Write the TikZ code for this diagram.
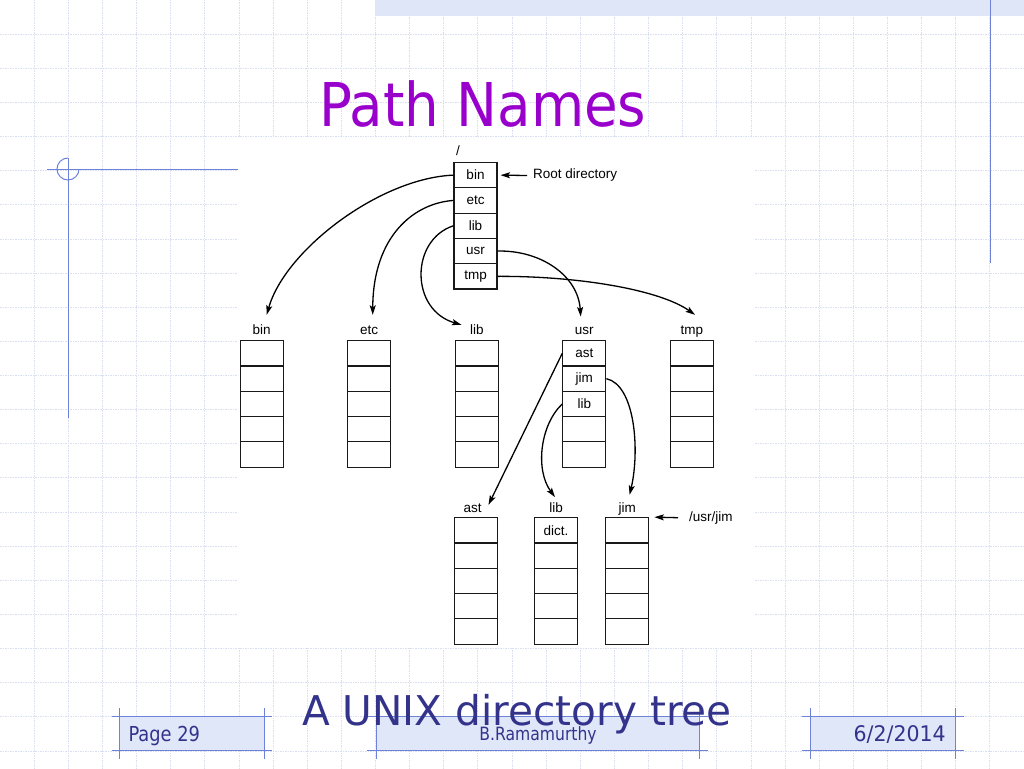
\documentclass[tikz,border=0pt]{standalone}
\usepackage{graphicx}
\usepackage{fontspec}
\setmainfont{Liberation Sans}
\newfontfamily\dvsfont{DejaVu Sans}
\usetikzlibrary{arrows.meta}
\definecolor{gridc}{RGB}{218,223,242}
\definecolor{bandc}{RGB}{222,230,248}
\definecolor{decoc}{RGB}{110,130,215}
\definecolor{titlec}{RGB}{153,0,204}
\definecolor{footc}{RGB}{51,51,140}
\definecolor{footfill}{RGB}{224,231,249}
\newcommand\dgfont{\fontsize{13.5}{15}\selectfont}
\begin{document}
\begin{tikzpicture}[x=1pt,y=-1pt,
  gridline/.style={gridc, line width=0.8pt, dash pattern=on 1.5pt off 1pt},
  deco/.style={decoc, line width=1pt},
  cellbox/.style={draw=black!90, line width=1.1pt, minimum width=43pt, minimum height=25.3pt, inner sep=0pt, font=\dgfont},
  dirlbl/.style={font=\dgfont, inner sep=0pt, text height=9.8pt, text depth=2.9pt, anchor=base},
  arr/.style={line width=1.3pt, -{Stealth[length=9.5pt,width=6pt,inset=2pt]}},
  foottext/.style={inner sep=0pt, text=footc}
]
\useasboundingbox (0,0) rectangle (1024,768);
\fill[white] (0,0) rectangle (1024,768);
% grid
\foreach \k in {1,...,29} \draw[gridline] ({34.133*\k},0) -- ({34.133*\k},768);
\foreach \k in {1,...,22} \draw[gridline] (0,{34.133*\k}) -- (1024,{34.133*\k});
% top band and decorations
\fill[bandc] (375,0) rectangle (1024,16);
\draw[deco] (990,0) -- (990,263);
\draw[deco] (47,169.5) -- (238,169.5);
\draw[deco] (68,158) -- (68,418);
\draw[deco] (68,158) arc[start angle=270, end angle=0, radius=11];
% diagram image area
\fill[white] (238,137.5) rectangle (755,647);
% title
\node[anchor=base west, inner sep=0pt, text=titlec] (title) at (319,126.7)
  {\scalebox{0.905}[1]{\dvsfont\fontsize{60.4}{62}\selectfont Path Names}};
% root directory
\node[dirlbl] (slash) at (458,155) {/};
\foreach \t [count=\i] in {bin,etc,lib,usr,tmp}
  \node[cellbox] (r\i) at (475.5,{162.5+12.65+25.3*(\i-1)}) {\t};
\node[anchor=west, inner xsep=6pt, inner ysep=0pt, font=\dgfont] (rootlbl) at (527,175.5) {Root directory};
% second level
\foreach \n/\x in {b/261.7, e/369, l/476.8, t/691.8}{
  \foreach \i in {1,...,5}
    \node[cellbox] (\n\i) at (\x,{340.7+12.65+25.3*(\i-1)}) {};
}
\foreach \t [count=\i] in {ast,jim,lib,{},{}}
  \node[cellbox] (u\i) at (584.3,{340.7+12.65+25.3*(\i-1)}) {\t};
\node[dirlbl] (Lbin) at (261.7,334) {bin};
\node[dirlbl] (Letc) at (369,334) {etc};
\node[dirlbl] (Llib) at (476.8,334) {lib};
\node[dirlbl] (Lusr) at (584.3,334) {usr};
\node[dirlbl] (Ltmp) at (691.8,334) {tmp};
% third level
\foreach \i in {1,...,5}
  \node[cellbox] (a\i) at (475.8,{517.7+12.65+25.3*(\i-1)}) {};
\foreach \t [count=\i] in {dict.,{},{},{},{}}
  \node[cellbox] (d\i) at (556,{517.7+12.65+25.3*(\i-1)}) {\t};
\foreach \i in {1,...,5}
  \node[cellbox] (j\i) at (627.3,{517.7+12.65+25.3*(\i-1)}) {};
\node[dirlbl] (Last) at (472.5,512) {ast};
\node[dirlbl] (Llibb) at (556,512) {lib};
\node[dirlbl] (Ljim) at (627.3,512) {jim};
\node[anchor=west, inner xsep=11pt, inner ysep=0pt, font=\dgfont] (usrjim) at (678,517.7) {/usr/jim};
% connectors
\draw[arr] (r1.west) .. controls (380,178) and (285,250) .. ([shift={(5,-9.2)}]Lbin.north);
\draw[arr] (r2.west) .. controls (415,203) and (373,235) .. ([shift={(3.7,-9.2)}]Letc.north);
\draw[arr] (r3.west) .. controls (410,240) and (410,310) .. ([shift={(-8.4,0.8)}]Llib.north west);
\draw[arr] (r4.east) .. controls (540,250) and (578,275) .. ([shift={(-3.6,-7.5)}]Lusr.north);
\draw[arr] (r5.east) .. controls (580,276) and (660,290) .. ([shift={(3.2,-9.2)}]Ltmp.north);
\draw[arr] (u1.west) -- ([shift={(6.8,2.8)}]Last.north east);
\draw[arr] (u3.west) .. controls (540,425) and (535,470) .. ([shift={(-1,-4.9)}]Llibb.north);
\draw[arr] (u2.east) .. controls (635,385) and (640,450) .. ([shift={(2.3,-7.2)}]Ljim.north);
\draw[arr] (rootlbl.west) -- ([xshift=3pt]r1.east);
\draw[arr] (usrjim.west) -- ([xshift=5pt]j1.north east);
% footer boxes
\fill[footfill] (119,716.7) rectangle (264.3,750.7);
\draw[deco] (111.7,716.7) -- (272.3,716.7);
\draw[deco] (111.7,750.7) -- (272.3,750.7);
\draw[deco] (119,708) -- (119,759);
\draw[deco] (264.3,708) -- (264.3,759);
\fill[footfill] (376,716.7) rectangle (699.3,750.7);
\draw[deco] (367,716.7) -- (708,716.7);
\draw[deco] (367,750.7) -- (708,750.7);
\draw[deco] (376,708) -- (376,759);
\draw[deco] (699.3,708) -- (699.3,759);
\fill[footfill] (810.7,716.7) rectangle (955.7,750.7);
\draw[deco] (801.7,716.7) -- (964,716.7);
\draw[deco] (801.7,750.7) -- (964,750.7);
\draw[deco] (810.7,708) -- (810.7,759);
\draw[deco] (955.7,708) -- (955.7,759);
% footer texts
\node[foottext, anchor=base west] (page) at (128.3,741.7)
  {\scalebox{0.865}[1]{\dvsfont\fontsize{20.6}{22}\selectfont Page 29}};
\node[foottext, anchor=base] (author) at (538,740)
  {\scalebox{0.853}[1]{\dvsfont\fontsize{18.3}{20}\selectfont B.Ramamurthy}};
\node[foottext, anchor=base east] (date) at (946,741.7)
  {\scalebox{0.955}[1]{\dvsfont\fontsize{21.5}{23}\selectfont 6/2/2014}};
\node[foottext, anchor=base west] (caption) at (302,725)
  {\scalebox{0.99}[1]{\dvsfont\fontsize{41}{43}\selectfont A UNIX directory tree}};
\end{tikzpicture}
\end{document}
